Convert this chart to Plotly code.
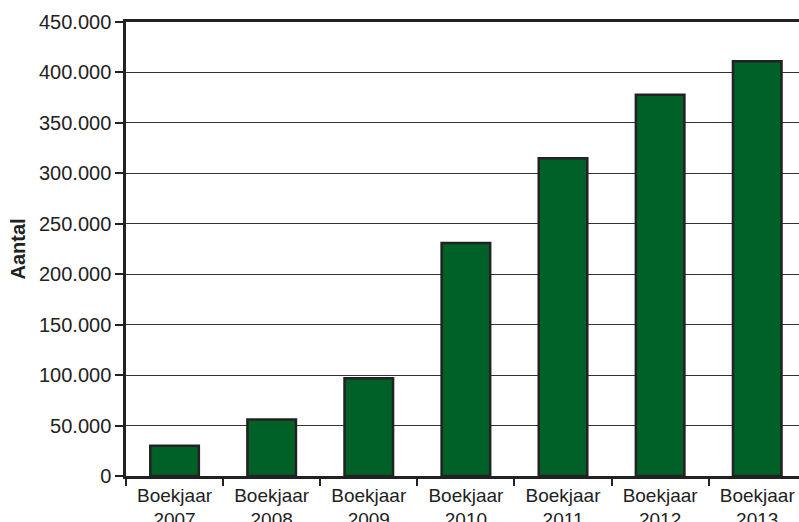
import plotly.graph_objects as go

categories = ["Boekjaar<br>2007", "Boekjaar<br>2008", "Boekjaar<br>2009", "Boekjaar<br>2010",
              "Boekjaar<br>2011", "Boekjaar<br>2012", "Boekjaar<br>2013"]
values = [30000, 56000, 97000, 231000, 315000, 378000, 411000]
y_ticks = [0, 50000, 100000, 150000, 200000, 250000, 300000, 350000, 400000, 450000]

fig = go.Figure()
fig.add_trace(go.Bar(
    x=categories, y=values,
    marker=dict(color="#006128", line=dict(color="#222222", width=2.5)),
    cliponaxis=False,
))

font_family = "Liberation Sans, Arial, sans-serif"
fig.update_layout(
    width=799, height=522,
    margin=dict(l=126, r=0, t=22, b=46, autoexpand=False),
    paper_bgcolor="white", plot_bgcolor="white",
    separators=",.",
    bargap=0.5,
    showlegend=False,
    font=dict(family=font_family, size=19, color="#222222"),
)
fig.update_xaxes(
    type="category",
    range=[-0.5, 6.43],
    automargin=False,
    showline=True, linecolor="#222222", linewidth=2.5, mirror=True,
    ticks="outside", ticklen=7, tickcolor="#222222", tickwidth=1.5,
    tickson="boundaries",
    showgrid=False,
    tickfont=dict(size=19, family=font_family, color="#222222"),
)
fig.update_yaxes(
    range=[0, 450000],
    automargin=False,
    tickvals=y_ticks,
    tickformat=",d",
    showline=True, linecolor="#222222", linewidth=2.5,
    ticks="outside", ticklen=8, tickcolor="#222222", tickwidth=1.5,
    showgrid=True, gridcolor="#333333", gridwidth=1.2,
    zeroline=False,
    tickfont=dict(size=20, family=font_family, color="#222222"),
    title=dict(text="<b>Aantal</b>", font=dict(size=20, family=font_family, color="#222222"), standoff=8),
)
fig.write_html("out.html", config={"displayModeBar": False},
               post_script="document.body.style.margin='0';document.body.style.overflow='hidden';")
